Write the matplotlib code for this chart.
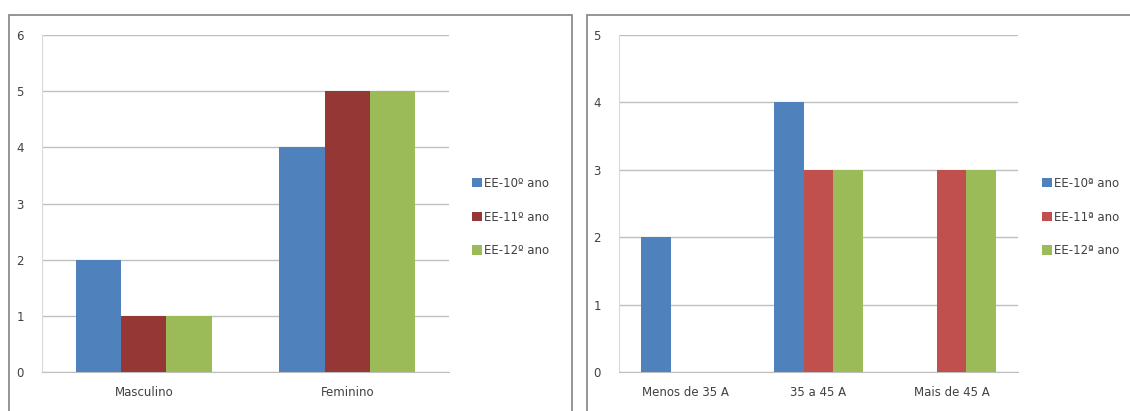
import matplotlib
matplotlib.use("Agg")
import matplotlib.pyplot as plt
import matplotlib.patches as mpatches
from matplotlib import font_manager
import numpy as np

# ---- data ----
cats_left = ["Masculino", "Feminino"]
left_10 = [2, 4]
left_11 = [1, 5]
left_12 = [1, 5]
labels_left = ["EE-10º ano", "EE-11º ano", "EE-12º ano"]

cats_right = ["Menos de 35 A", "35 a 45 A", "Mais de 45 A"]
right_10 = [2, 4, 0]
right_11 = [0, 3, 3]
right_12 = [0, 3, 3]
labels_right = ["EE-10ª ano", "EE-11ª ano", "EE-12ª ano"]

yticks_left = [0, 1, 2, 3, 4, 5, 6]
yticks_right = [0, 1, 2, 3, 4, 5]

# ---- style ----
avail = {f.name for f in font_manager.fontManager.ttflist}
fam = "Liberation Sans Narrow" if "Liberation Sans Narrow" in avail else "DejaVu Sans"
plt.rcParams["font.family"] = [fam, "DejaVu Sans"]
FS = 8.5
TXT = "#404040"
GRID = "#bfbfbf"

W, H = 1130, 411
fig = plt.figure(figsize=(W / 100, H / 100), dpi=100)
fig.patch.set_facecolor("white")


def fx(px):
    return px / W


def fy(py):
    return 1 - py / H


# chart frames
for x0, x1 in [(9, 572), (587, 1140)]:
    fig.patches.append(mpatches.Rectangle((fx(x0), fy(420)), fx(x1 - x0), (420 - 15) / H,
                                          transform=fig.transFigure, fill=False,
                                          edgecolor="#8c8c8c", linewidth=1.3))


def panel(x0, x1, cats, series, colors, labels, yticks, legx):
    ax = fig.add_axes([fx(x0), fy(372), fx(x1 - x0), (372 - 35) / H])
    n = len(series)
    w = 1 / (n + 1.5)
    xs = np.arange(len(cats))
    for i, (vals, c, lab) in enumerate(zip(series, colors, labels)):
        ax.bar(xs + (i - (n - 1) / 2) * w, vals, width=w, color=c, label=lab, zorder=3)
    ax.set_xlim(-0.5, len(cats) - 0.5)
    ax.set_ylim(yticks[0], yticks[-1])
    ax.set_yticks(yticks)
    ax.set_xticks(xs)
    ax.set_xticklabels(cats)
    ax.yaxis.grid(True, color=GRID, linewidth=1, zorder=0)
    ax.set_axisbelow(True)
    for s in ["top", "right"]:
        ax.spines[s].set_visible(False)
    ax.spines["left"].set_color("#d9d9d9")
    ax.spines["bottom"].set_color(GRID)
    ax.tick_params(axis="both", length=0, labelsize=FS, labelcolor=TXT)
    ax.tick_params(axis="y", pad=13)
    ax.tick_params(axis="x", pad=10)
    ax.legend(loc="center left", bbox_to_anchor=(fx(legx), fy(217)),
              bbox_transform=fig.transFigure, frameon=False, fontsize=FS,
              handlelength=0.85, handleheight=0.85, handletextpad=0.2,
              labelspacing=1.75, borderpad=0, borderaxespad=0,
              labelcolor=TXT)
    return ax


panel(42, 449, cats_left, [left_10, left_11, left_12],
      ["#4f81bd", "#953735", "#9bbb59"], labels_left, yticks_left, 472)
panel(619, 1018, cats_right, [right_10, right_11, right_12],
      ["#4f81bd", "#c0504d", "#9bbb59"], labels_right, yticks_right, 1042)

fig.savefig("out.png", dpi=100, facecolor="white")
